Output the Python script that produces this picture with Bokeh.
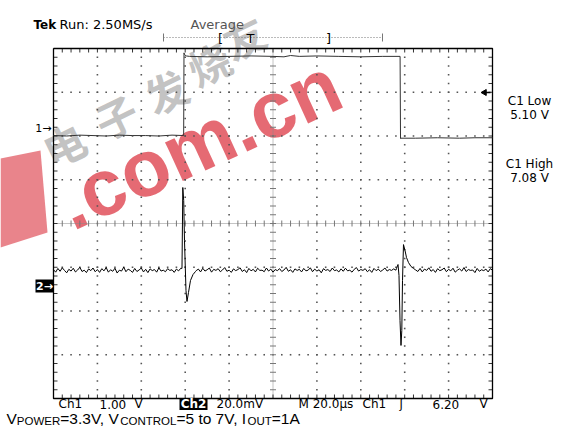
import numpy as np
from bokeh.plotting import figure
from bokeh.models import Range1d
from bokeh.core.properties import value
from bokeh.embed import file_html
from bokeh.resources import INLINE

# ---------------- data ----------------
# Ch1 trace: time (us) and level in screen divisions
ch1_t = [0, 6, 12, 18, 24, 30, 36, 42, 48, 54,
         59.3, 59.45, 59.7, 60.5, 62,
         70, 80, 90, 100, 105, 108, 112, 120, 130, 140, 150,
         157.9, 158.1, 158.3,
         165, 175, 185, 192, 200]
ch1_div = [2.01, 2.00, 2.02, 2.01, 2.00, 2.02, 2.01, 2.01, 2.00, 2.02,
           2.01, 3.90, 3.86, 3.83, 3.82,
           3.81, 3.82, 3.83, 3.82, 3.81, 3.84, 3.82, 3.83, 3.82, 3.81, 3.82,
           3.82, 1.94, 1.95,
           1.95, 1.96, 1.95, 1.96, 1.96]

# Ch2 trace (mV, relative to the Ch2 ground marker), 1 us samples between events
ch2_pre_start = 0
ch2_pre_mv = [7.2, 6.1, 7.8, 6.5, 8.1, 6.9, 5.8, 7.4, 6.6, 7.9,
              6.2, 7.1, 8.3, 6.4, 7.0, 5.9, 7.6, 6.8, 8.0, 6.3,
              7.3, 6.0, 7.7, 6.7, 8.2, 6.1, 7.2, 6.5, 7.9, 5.7,
              7.0, 6.6, 8.4, 6.3, 7.5, 6.9, 6.0, 7.8, 6.4, 7.1,
              8.0, 6.2, 7.4, 5.9, 7.6, 6.8, 7.3, 6.1, 8.1, 6.6,
              7.0, 6.3, 7.7, 6.9, 7.2, 6.0, 7.5, 6.7, 7.9]
ch2_evt1_t = [58.54, 58.91, 59.32, 59.68, 60.36, 60.82, 61.50, 62.41, 63.55, 64.69]
ch2_evt1_mv = [7.8, 44.8, 38.8, 20.6, -2.3, -7.3, -3.2, 2.3, 5.0, 6.4]
ch2_mid_start = 65
ch2_mid_mv = [6.8, 7.5, 6.2, 7.9, 6.6, 7.2, 8.0, 6.1, 7.4, 6.9,
              7.7, 6.3, 7.1, 8.2, 6.5, 7.0, 6.0, 7.6, 6.8, 7.3,
              8.1, 6.4, 7.2, 5.9, 7.8, 6.7, 7.4, 6.2, 7.9, 6.9,
              7.0, 6.3, 8.0, 6.6, 7.5, 6.1, 7.3, 6.8, 7.7, 6.4,
              7.1, 8.3, 6.5, 7.2, 6.0, 7.6, 6.9, 7.4, 6.2, 7.8,
              6.7, 7.0, 8.1, 6.3, 7.5, 6.6, 7.2, 5.8, 7.7, 6.9,
              7.3, 6.4, 8.0, 6.8, 7.1, 6.2, 7.6, 6.5, 7.9, 6.7,
              7.0, 6.1, 7.4, 8.2, 6.6, 7.3, 6.9, 7.7, 6.3, 7.2,
              6.0, 7.8, 6.8, 7.5, 6.4, 7.1, 8.0, 6.6, 7.3, 6.9,
              7.6, 7.0]
ch2_evt2_t = [156.26, 156.95, 157.40, 157.86, 158.31, 158.68, 159.00, 159.45,
              160.14, 160.82, 161.73, 162.87, 164.01]
ch2_evt2_mv = [7.8, 9.6, 4.6, -16.0, -27.4, -20.6, 2.3, 18.7, 16.0, 12.8, 10.5, 8.7, 7.8]
ch2_post_start = 165
ch2_post_mv = [7.1, 6.4, 7.8, 6.2, 7.5, 6.9, 8.1, 6.5, 7.3, 6.0,
               7.7, 6.8, 7.2, 8.0, 6.3, 7.4, 6.7, 7.9, 6.1, 7.0,
               7.6, 6.6, 8.2, 6.4, 7.3, 6.9, 7.1, 5.9, 7.8, 6.5,
               7.2, 6.8, 7.5, 6.2, 7.7, 7.0]

# scope settings / readouts
us_per_div = 20
ch2_mv_per_div = 20
header_brand = "Tek"
header_run = "Run: 2.50MS/s"
header_mode = "Average"
readout_labels = ["Ch1", "1.00", "V", "20.0mV", "M 20.0\u00b5s", "Ch1", "\u0283", "6.20", "V"]
readout_x_px = [58, 99, 134, 216, 298, 362, 399, 432, 479]
meas_labels = ["C1 Low", "5.10 V", "C1 High", "7.08 V"]
caption_parts = [("V", False), ("POWER", True), ("=3.3V, V", False), ("CONTROL", True),
                 ("=5 to 7V, I", False), ("OUT", True), ("=1A", False)]

# ---------------- geometry (picture pixels) ----------------
W, H = 555, 427
FL, FR, FT, FB = 53.0, 492.0, 48.0, 398.0
DX = (FR - FL) / 10.0
DY = (FB - FT) / 8.0
CY = (FT + FB) / 2.0


def X(px):
    return (px - FL) / DX * us_per_div


def Y(py):
    return (CY - py) / DY


p = figure(width=W, height=H, output_backend="svg", toolbar_location=None,
           x_range=Range1d(X(0), X(W)), y_range=Range1d(Y(H), Y(0)),
           x_axis_type=None, y_axis_type=None, min_border=0,
           outline_line_color=None, background_fill_color="white")
p.grid.visible = False

# ---------------- watermark ----------------
wm_px = [(0, 158), (40, 150), (47, 232), (0, 247)]
p.patch([X(a) for a, b in wm_px], [Y(b) for a, b in wm_px], fill_color="#e0505a",
        fill_alpha=0.7, line_color=None)
cjk = "电子发烧友"
cjk_pos = [(63, 143), (115, 115), (165, 90), (208, 62), (243, 36)]
p.text(x=[X(a) for a, b in cjk_pos], y=[Y(b) for a, b in cjk_pos], text=list(cjk),
       angle=0.45, text_font=value("Noto Sans CJK SC"), text_font_size="42px",
       text_font_style="bold", text_color="#9a9a9a", text_alpha=0.6,
       text_align="center", text_baseline="middle")
p.text(x=[X(198)], y=[Y(143)], text=[".com.cn"], angle=0.43,
       text_font=value("Liberation Sans"), text_font_size="80px", text_font_style="bold",
       text_color="#e0505a", text_alpha=0.85, text_align="center", text_baseline="middle")

# ---------------- graticule ----------------
minor = np.arange(0, 200.001, us_per_div / 5)
minor_y = np.arange(-4, 4.001, 0.2)
gx, gy = [], []
for k in range(1, 10):
    if k == 5:
        continue
    for yy in minor_y[1:-1]:
        gx.append(k * us_per_div); gy.append(yy)
for j in range(-3, 4):
    if j == 0:
        continue
    for xx in minor[1:-1]:
        gx.append(xx); gy.append(j)
p.scatter(gx, gy, marker="square", size=1.6, fill_color="#555555", line_color=None)

# centre cross
p.line([0, 200], [0, 0], line_color="#888888", line_dash="1 1", line_width=1)
p.line([100, 100], [-4, 4], line_color="#888888", line_dash="1 1", line_width=1)
tl = 3.0
p.segment(x0=list(minor), y0=[-tl / DY] * len(minor), x1=list(minor), y1=[tl / DY] * len(minor),
          line_color="#777777", line_width=1)
p.segment(x0=[100 - tl / DX * us_per_div] * len(minor_y), y0=list(minor_y),
          x1=[100 + tl / DX * us_per_div] * len(minor_y), y1=list(minor_y),
          line_color="#777777", line_width=1)

# edge ticks
el = 4.0
p.segment(x0=list(minor), y0=[4] * len(minor), x1=list(minor), y1=[4 - el / DY] * len(minor),
          line_color="#333333", line_width=1)
p.segment(x0=list(minor), y0=[-4] * len(minor), x1=list(minor), y1=[-4 + el / DY] * len(minor),
          line_color="#333333", line_width=1)
p.segment(x0=[0] * len(minor_y), y0=list(minor_y), x1=[el / DX * us_per_div] * len(minor_y),
          y1=list(minor_y), line_color="#333333", line_width=1)
p.segment(x0=[200] * len(minor_y), y0=list(minor_y), x1=[200 - el / DX * us_per_div] * len(minor_y),
          y1=list(minor_y), line_color="#333333", line_width=1)

# frame
p.line([0, 200, 200, 0, 0], [4, 4, -4, -4, 4], line_color="black", line_width=1.3)

# ---------------- traces ----------------
p.line(ch1_t, ch1_div, line_color="#333333", line_width=1)

ch2_ground_div = Y(285)
t2 = (list(ch2_pre_start + np.arange(len(ch2_pre_mv))) + ch2_evt1_t +
      list(ch2_mid_start + np.arange(len(ch2_mid_mv))) + ch2_evt2_t +
      list(ch2_post_start + np.arange(len(ch2_post_mv))))
v2 = ch2_pre_mv + ch2_evt1_mv + ch2_mid_mv + ch2_evt2_mv + ch2_post_mv
p.line(t2, [ch2_ground_div + v / ch2_mv_per_div for v in v2], line_color="black", line_width=1)

# ---------------- texts ----------------
mono = value("DejaVu Sans")
p.text(x=[X(33)], y=[Y(24)], text=[header_brand], text_font=mono, text_font_size="12px",
       text_font_style="bold", text_baseline="middle", text_color="black")
p.text(x=[X(59)], y=[Y(24)], text=[header_run], text_font=mono, text_font_size="13px",
       text_baseline="middle", text_color="black")
p.text(x=[X(190)], y=[Y(24)], text=[header_mode], text_font=mono, text_font_size="13px",
       text_baseline="middle", text_color="#555555")

# trigger position bar
p.line([X(163), X(382)], [Y(37), Y(37)], line_color="#777777", line_dash="1 2", line_width=1)
p.segment(x0=[X(163), X(382)], y0=[Y(33), Y(33)], x1=[X(163), X(382)], y1=[Y(41), Y(41)],
          line_color="#777777", line_width=1)
p.text(x=[X(220), X(250), X(328)], y=[Y(38)] * 3, text=["[", "T", "]"], text_font=mono,
       text_font_size="13px", text_align="center", text_baseline="middle", text_color="black")

# channel markers
p.text(x=[X(51)], y=[Y(128)], text=["1\u2192"], text_font=mono, text_font_size="11px",
       text_align="right", text_baseline="middle", text_color="black")
p.quad(left=[X(35)], right=[X(53)], top=[Y(279)], bottom=[Y(292)], fill_color="black", line_color=None)
p.text(x=[X(44)], y=[Y(285.5)], text=["2\u2192"], text_font=mono, text_font_size="11px",
       text_font_style="bold", text_align="center", text_baseline="middle", text_color="white")

# trigger level marker
p.scatter([X(484)], [Y(92)], marker="triangle", angle=np.pi / 2, size=6,
          fill_color="black", line_color="black")
p.line([X(484), X(490)], [Y(92), Y(92)], line_color="black", line_width=1.5)

# bottom readout
p.quad(left=[X(179)], right=[X(207)], top=[Y(398.5)], bottom=[Y(409.5)], fill_color="black", line_color=None)
p.text(x=[X(193)], y=[Y(403.5)], text=["Ch2"], text_font=mono, text_font_size="12px",
       text_font_style="bold", text_align="center", text_baseline="middle", text_color="white")
p.text(x=[X(v) for v in readout_x_px], y=[Y(403.5)] * len(readout_labels), text=readout_labels,
       text_font=mono, text_font_size="12px", text_align="left", text_baseline="middle",
       text_color="black")

# measurements
p.text(x=[X(529)] * 4, y=[Y(100), Y(114), Y(163), Y(177)], text=meas_labels, text_font=mono,
       text_font_size="12px", text_align="center", text_baseline="middle", text_color="black")

# caption with subscripts (vertical centres of the main text and of the subscripts)
ARIAL_W = {'V': 667, 'P': 667, 'O': 778, 'W': 944, 'E': 667, 'R': 722, '=': 584, '3': 556,
           '.': 278, ',': 278, ' ': 278, 'C': 722, 'N': 722, 'T': 611, 'L': 556, '5': 556,
           't': 278, 'o': 556, '7': 556, 'I': 278, 'U': 722, '1': 556, 'A': 667}
F_MAIN, F_SUB = 15.5, 11.5
cx = 6.0
for s, sub in caption_parts:
    fs = F_SUB if sub else F_MAIN
    p.text(x=[X(cx)], y=[Y(420.3 if sub else 417.5)], text=[s], text_font=value("Liberation Sans"),
           text_font_size=f"{fs}px", text_align="left", text_baseline="middle",
           text_color="black")
    cx += sum(ARIAL_W[c] for c in s) / 1000.0 * fs

open("out.html", "w").write(file_html(p, INLINE))
